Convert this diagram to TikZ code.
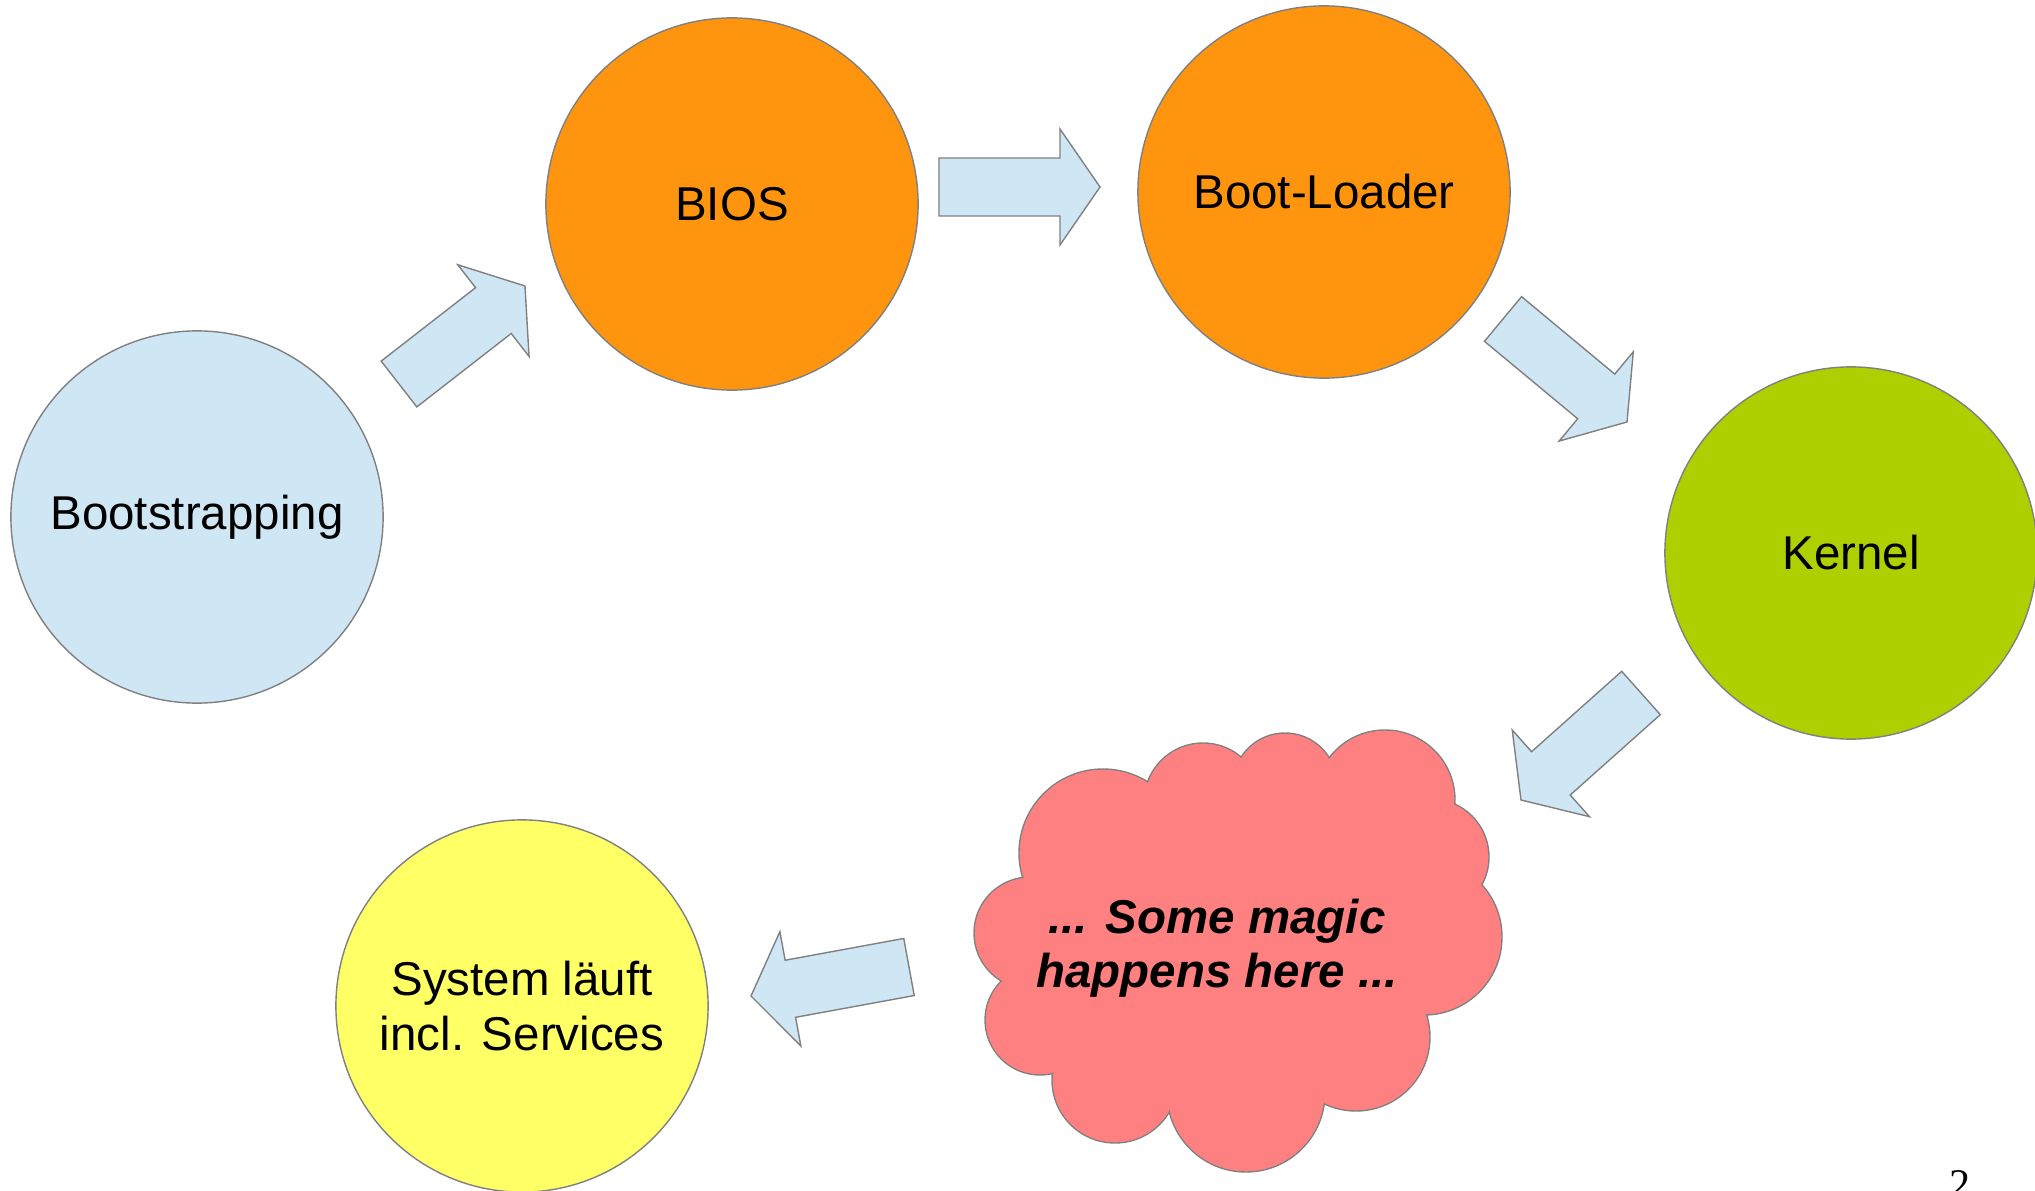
\documentclass[tikz,border=0pt]{standalone}
\usepackage{fontspec}
\setmainfont{Liberation Sans}
\newfontfamily\pagefont{Liberation Serif}
\usepackage{tikz}
\usetikzlibrary{calc}
\definecolor{BootBlue}{HTML}{CFE7F5}
\definecolor{BootOrange}{HTML}{FF950E}
\definecolor{BootGreen}{HTML}{AECF00}
\definecolor{BootYellow}{HTML}{FFFF66}
\definecolor{BootRed}{HTML}{FF8080}
\definecolor{BootLine}{HTML}{808080}

% block arrow from tail #1 to tip #2
\newcommand{\blockarrow}[2]{%
  \coordinate (hb) at ($(#2)!0.40cm!(#1)$);
  \draw[flowarrow]
    ($(#1)!0.29cm!90:(#2)$) -- ($(hb)!0.29cm!-90:(#1)$) -- ($(hb)!0.58cm!-90:(#1)$)
    -- (#2) -- ($(hb)!0.58cm!90:(#1)$) -- ($(hb)!0.29cm!90:(#1)$)
    -- ($(#1)!0.29cm!-90:(#2)$) -- cycle;
}

\begin{document}
\begin{tikzpicture}[
            x=0.01cm,y=-0.01cm,
            stage/.style={circle,draw=BootLine,line width=0.4pt,inner sep=0pt,
              minimum size=3.72cm,align=center,
              font=\fontsize{13.5}{15.5}\selectfont},
            flowarrow/.style={draw=BootLine,line width=0.4pt,fill=BootBlue,line join=miter},
            puff/.style={draw=BootLine,line width=0.4pt,fill=BootRed}
          ]
          \useasboundingbox (0,0) rectangle (2035,1191);
          \node[stage,fill=BootBlue] (boot) at (197,517) {Bootstrapping};
          \node[stage,fill=BootOrange] (bios) at (732,204) {BIOS};
          \node[stage,fill=BootOrange] (loader) at (1324,192) {Boot-Loader};
          \node[stage,fill=BootGreen] (kernel) at (1851,553) {Kernel};
          \node[stage,fill=BootYellow] (running) at (522,1006) {System läuft\\incl. Services};
          % cloud
          \foreach \cx/\cy/\r [count=\i] in {1103/853/84,1203/802/59,1285/785/52,1385/800/70,
              1431/857/58,1424/937/78,1356/1037/74,1246/1093/79,1115/1080/63,
              1040/1020/55,1030/933/56}{
            \draw[puff] (\cx,\cy) circle[radius=\r];
            \coordinate (puff\i) at (\cx,\cy);
          }
          \foreach \cx/\cy/\r in {1103/853/84,1203/802/59,1285/785/52,1385/800/70,
              1431/857/58,1424/937/78,1356/1037/74,1246/1093/79,1115/1080/63,
              1040/1020/55,1030/933/56}
            \fill[BootRed] (\cx,\cy) circle[radius={\r-1}];
          \fill[BootRed] (puff1) \foreach \i in {2,...,11}{ -- (puff\i)} -- cycle;
          \node[align=center,font=\fontsize{13.5}{15.5}\selectfont\bfseries\itshape]
            (magic) at (1217,948) {... Some magic\\happens here ...};
          % arrows
          \coordinate (a1s) at (399,384);  \coordinate (a1e) at (525,286);
          \coordinate (a2s) at (939,187);  \coordinate (a2e) at (1100,187);
          \coordinate (a3s) at (1503,319); \coordinate (a3e) at (1627,422);
          \coordinate (a4s) at (1641,693); \coordinate (a4e) at (1521,800);
          \coordinate (a5s) at (909,967);  \coordinate (a5e) at (751,996);
          \blockarrow{a1s}{a1e}
          \blockarrow{a2s}{a2e}
          \blockarrow{a3s}{a3e}
          \blockarrow{a4s}{a4e}
          \blockarrow{a5s}{a5e}
          \node[anchor=base,inner sep=0pt,font=\pagefont\fontsize{12}{14}\selectfont]
            (pagenum) at (1960,1198) {2};
        \end{tikzpicture}
\end{document}
